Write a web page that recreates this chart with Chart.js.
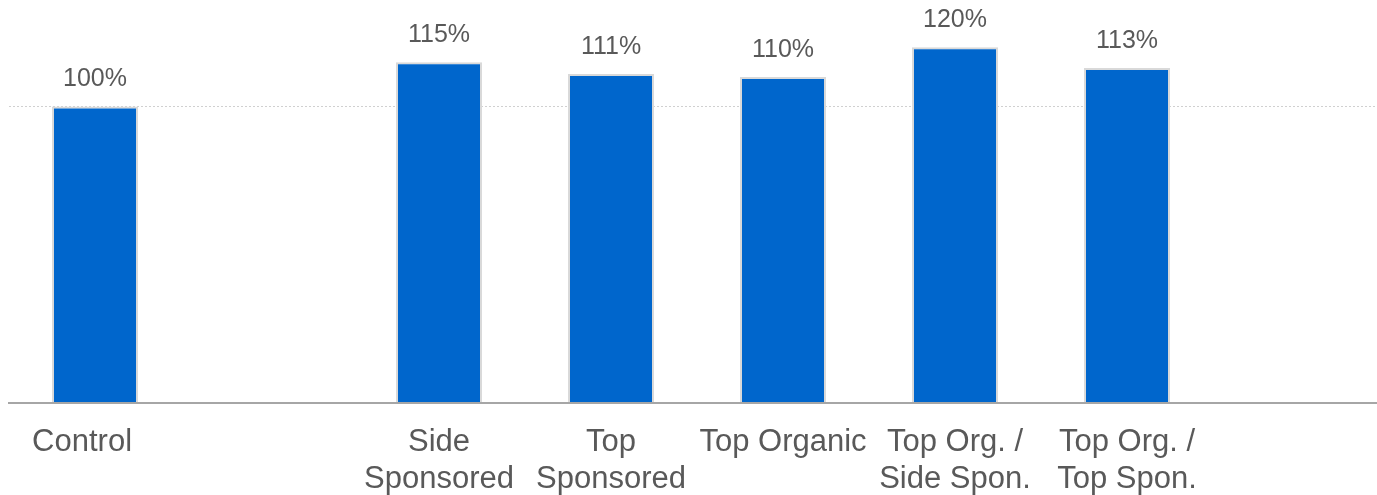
<!DOCTYPE html>
<html>
<head>
<meta charset="utf-8">
<script src="https://cdn.jsdelivr.net/npm/chart.js@4/dist/chart.umd.min.js"></script>
<style>
  html, body { margin: 0; padding: 0; background: #fff; overflow: hidden; }
  #wrap { width: 1385px; height: 497px; }
</style>
</head>
<body>
<div id="wrap"><canvas id="myChart" width="1385" height="497"></canvas></div>
<script>
/* data */
const categories = [
  'Control   ',
  '',
  ['Side', 'Sponsored'],
  ['Top', 'Sponsored'],
  'Top Organic',
  ['Top Org. /', 'Side Spon.'],
  ['Top Org. /', 'Top Spon.'],
  ''
];
const values = [1.00, null, 1.15, 1.11, 1.10, 1.20, 1.13, null];
const valueLabels = ['100%', '', '115%', '111%', '110%', '120%', '113%', ''];

/* value labels above the bars */
const valueLabelPlugin = {
  id: 'valueLabels',
  afterDatasetsDraw(chart) {
    const ctx = chart.ctx;
    const meta = chart.getDatasetMeta(0);
    ctx.save();
    ctx.font = '25px "Liberation Sans", Arial, sans-serif';
    ctx.fillStyle = '#595959';
    ctx.textAlign = 'center';
    ctx.textBaseline = 'middle';
    meta.data.forEach((bar, i) => {
      if (values[i] == null) return;
      ctx.fillText(valueLabels[i], bar.x, bar.y - 27);
    });
    ctx.restore();
  }
};

const ctx = document.getElementById('myChart').getContext('2d');
const myChart = new Chart(ctx, {
  type: 'bar',
  data: {
    labels: categories,
    datasets: [{
      data: values,
      backgroundColor: '#0066cc',
      borderColor: '#d9d9d9',
      borderWidth: 2,
      categoryPercentage: 1,
      barPercentage: 0.5
    }]
  },
  options: {
    responsive: false,
    animation: false,
    layout: { padding: { left: 9, top: 0, right: 0, bottom: -22 } },
    plugins: {
      legend: { display: false },
      tooltip: { enabled: false }
    },
    scales: {
      x: {
        grid: { display: false, drawTicks: false },
        border: { display: true, color: '#a6a6a6', width: 2 },
        ticks: {
          color: '#595959',
          font: { family: '"Liberation Sans", Arial, sans-serif', size: 31, lineHeight: 1.2 },
          padding: 21,
          maxRotation: 0,
          autoSkip: false
        }
      },
      y: {
        min: 0,
        max: 1.36,
        ticks: { display: false, stepSize: 1 },
        grid: {
          drawTicks: false,
          color: (c) => (c.tick && c.tick.value === 1 ? '#d0d0d0' : 'rgba(0,0,0,0)'),
          lineWidth: 1
        },
        border: { display: false, dash: [2, 2] }
      }
    }
  },
  plugins: [valueLabelPlugin]
});
</script>
</body>
</html>
